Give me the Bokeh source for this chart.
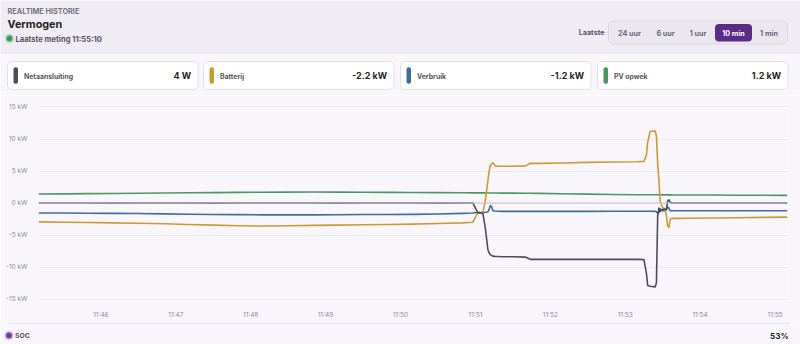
from datetime import datetime, timedelta

from bokeh.core.properties import value
from bokeh.embed import file_html
from bokeh.layouts import column
from bokeh.models import ColumnDataSource, DatetimeTickFormatter, FixedTicker, Range1d, Span
from bokeh.plotting import figure
from bokeh.resources import INLINE

FONT = "Inter"

# ---------------------------------------------------------------- data
day = "2024-01-01"
window_start = "11:45:10"
last_reading = "11:55:10"

# seconds after window_start
t_sec = [0, 20, 40, 60, 80, 100, 120, 140, 160, 180, 200, 220, 240, 260, 280, 300, 320, 340,
         348, 350, 352, 356, 358, 360, 361, 362, 363, 364, 366, 368, 372, 380, 390, 394,
         400, 420, 440, 460, 480,
         485, 487, 488, 490, 494, 495, 496, 497, 498, 500, 502, 503, 504, 505, 506, 508, 510,
         514, 520, 540, 560, 580, 600]

net_kw = [0.0, 0.01, 0.0, -0.01, 0.0, 0.01, 0.0, -0.01, 0.0, 0.0, 0.01, 0.0, -0.01, 0.0, 0.01, 0.0, -0.01, 0.0,
          0.0, -0.8, -1.5, -1.6, -4.0, -7.3, -7.8, -8.1, -8.2, -8.3, -8.35, -8.35, -8.4, -8.4, -8.45, -8.8,
          -8.8, -8.8, -8.8, -8.8, -8.8,
          -8.85, -11.0, -12.9, -13.0, -13.1, -12.5, -2.0, -0.8, -1.3, -1.0, -1.0, -0.9, 0.3, 0.5, 0.1, 0.0, 0.0,
          0.0, 0.0, 0.01, 0.0, 0.0, 0.004]

batt_kw = [-2.95, -3.0, -3.05, -3.1, -3.15, -3.25, -3.35, -3.45, -3.55, -3.6, -3.55, -3.5, -3.45, -3.4, -3.35, -3.3, -3.2, -3.1,
           -3.0, -2.2, -1.5, -1.5, 0.5, 3.5, 5.0, 5.9, 6.1, 6.3, 5.8, 5.75, 5.75, 5.75, 5.8, 6.2,
           6.2, 6.25, 6.35, 6.4, 6.45,
           6.5, 7.5, 9.5, 11.2, 11.25, 10.5, 6.2, 3.5, 0.2, -0.7, -1.0, -2.0, -3.6, -3.8, -2.5, -2.4, -2.4,
           -2.4, -2.38, -2.35, -2.3, -2.25, -2.2]

verbruik_kw = [-1.55, -1.55, -1.6, -1.62, -1.65, -1.7, -1.75, -1.8, -1.82, -1.85, -1.85, -1.85, -1.83, -1.8, -1.8, -1.78, -1.72, -1.62,
               -1.55, -1.5, -1.5, -1.5, -1.45, -1.4, -1.0, -0.4, -0.6, -1.2, -1.25, -1.28, -1.3, -1.3, -1.3, -1.3,
               -1.3, -1.3, -1.3, -1.28, -1.28,
               -1.28, -1.28, -1.28, -1.28, -1.3, -1.35, -1.6, -1.5, -0.9, -1.2, -1.2, -1.1, -0.6, -0.8, -1.2, -1.22, -1.22,
               -1.22, -1.22, -1.22, -1.21, -1.2, -1.2]

pv_kw = [1.40, 1.42, 1.46, 1.49, 1.52, 1.56, 1.60, 1.63, 1.66, 1.69, 1.70, 1.71, 1.70, 1.68, 1.66, 1.64, 1.62, 1.60,
         1.59, 1.59, 1.59, 1.58, 1.58, 1.57, 1.57, 1.57, 1.57, 1.56, 1.56, 1.56, 1.55, 1.54, 1.53, 1.52,
         1.51, 1.45, 1.39, 1.34, 1.30,
         1.29, 1.29, 1.29, 1.29, 1.28, 1.28, 1.28, 1.28, 1.28, 1.27, 1.27, 1.27, 1.27, 1.27, 1.27, 1.26, 1.26,
         1.26, 1.26, 1.24, 1.22, 1.21, 1.20]

series_names = ["Netaansluiting", "Batterij", "Verbruik", "PV opwek"]
series_now = ["4 W", "-2.2 kW", "-1.2 kW", "1.2 kW"]
series_colors = ["#4d4d58", "#cc9a35", "#3f6d97", "#4e9661"]

x_tick_labels = ["11:46", "11:47", "11:48", "11:49", "11:50", "11:51", "11:52", "11:53", "11:54", "11:55"]
y_ticks_kw = [-15, -10, -5, 0, 5, 10, 15]

range_label = "Laatste"
range_buttons = ["24 uur", "6 uur", "1 uur", "10 min", "1 min"]
selected_range = "10 min"

soc_label = "SOC"
soc_value = "53%"

# ---------------------------------------------------------------- colours
BODY_BG = "#f8f6fa"
HEADER_BG = "#efecf3"
BORDER = "#e2dee9"
TEXT_DARK = "#1f1f24"
TEXT_MID = "#55555e"
PURPLE = "#5b2b86"

W = 800


def deco_figure(h):
    f = figure(width=W, height=h, x_range=Range1d(0, W), y_range=Range1d(h, 0),
               x_axis_type=None, y_axis_type=None, toolbar_location=None,
               output_backend="svg", min_border=0, frame_align=False)
    f.outline_line_color = None
    f.background_fill_color = BODY_BG
    f.border_fill_color = BODY_BG
    return f


def txt(f, x, y, s, size, color, style="bold", align="left"):
    f.text(x=[x], y=[y], text=[s], text_font=value(FONT), text_font_size=value(f"{size}px"),
           text_font_style=style, text_color=color, text_align=align, text_baseline="middle")


# ---------------------------------------------------------------- header + cards
head = deco_figure(95)
head.quad(left=[0], right=[W], top=[0], bottom=[52], fill_color=HEADER_BG, line_color=None)
head.segment(x0=[0], y0=[52.5], x1=[W], y1=[52.5], line_color=BORDER, line_width=1)

txt(head, 7, 11, "REALTIME HISTORIE", 7.3, "#75757e")
txt(head, 7, 23.5, "Vermogen", 10.8, TEXT_DARK)
head.scatter(x=[9], y=[38], size=8, color="#3a9a50", alpha=0.25)
head.scatter(x=[9], y=[38], size=5, color="#3a9a50")
txt(head, 15, 38.5, f"Laatste meting {last_reading}", 7.6, TEXT_MID)

# range selector
txt(head, 604, 32, range_label, 7.2, TEXT_MID, align="right")
head.quad(left=[608], right=[787], top=[20.5], bottom=[43.5], fill_color="#ebe7f1",
          line_color="#dcd7e5", line_width=1, border_radius=5)
btn_centers = [629, 665, 697.5, 733, 768.5]
btn_widths = [34, 30, 28, 37, 30]
for lbl, cx, bw in zip(range_buttons, btn_centers, btn_widths):
    if lbl == selected_range:
        head.quad(left=[cx - bw / 2], right=[cx + bw / 2], top=[23.5], bottom=[41],
                  fill_color=PURPLE, line_color=None, border_radius=4)
        txt(head, cx, 32.5, lbl, 7.2, "#ffffff", align="center")
    else:
        txt(head, cx, 32.5, lbl, 7.2, "#6a6a73", align="center")

# current value cards
card_left = [7, 203, 400, 597]
card_w = 190.5
for left, name, now, col in zip(card_left, series_names, series_now, series_colors):
    head.quad(left=[left], right=[left + card_w], top=[61], bottom=[89], fill_color="#ffffff",
              line_color="#e4e0ea", line_width=1, border_radius=5)
    head.quad(left=[left + 6], right=[left + 10.5], top=[66.7], bottom=[83.3], fill_color=col,
              line_color=None, border_radius=2)
    txt(head, left + 16.5, 75.5, name, 6.9, TEXT_MID)
    txt(head, left + card_w - 7, 75, now, 9, TEXT_DARK, align="right")

# ---------------------------------------------------------------- chart
base = datetime.strptime(f"{day} {window_start}", "%Y-%m-%d %H:%M:%S")
t_end = datetime.strptime(f"{day} {last_reading}", "%Y-%m-%d %H:%M:%S")
times = [base + timedelta(seconds=s) for s in t_sec]
epoch = datetime(1970, 1, 1)
tick_ms = [(datetime.strptime(f"{day} {lbl}", "%Y-%m-%d %H:%M") - epoch).total_seconds() * 1000
           for lbl in x_tick_labels]

# frame is 196 px tall; this range puts 0 kW on a pixel centre at 6.4 px per kW
chart = figure(width=W, height=227, x_axis_type="datetime",
               x_range=Range1d(base, t_end), y_range=Range1d(-15.23, 15.39),
               toolbar_location=None, output_backend="svg", frame_align=False,
               min_border_left=38, min_border_right=13, min_border_top=9, min_border_bottom=22)
chart.outline_line_color = None
chart.background_fill_color = BODY_BG
chart.border_fill_color = BODY_BG
chart.xgrid.visible = False
chart.ygrid.grid_line_color = "#ece9f0"
chart.ygrid.grid_line_width = 1

chart.yaxis.ticker = FixedTicker(ticks=y_ticks_kw)
chart.yaxis.major_label_overrides = {v: f"{v} kW" for v in y_ticks_kw}
chart.xaxis.ticker = FixedTicker(ticks=tick_ms)
chart.xaxis.formatter = DatetimeTickFormatter(
    seconds="%H:%M", minsec="%H:%M", minutes="%H:%M", hourmin="%H:%M", hours="%H:%M")
for ax in (chart.xaxis[0], chart.yaxis[0]):
    ax.axis_line_color = None
    ax.major_tick_line_color = None
    ax.minor_tick_line_color = None
    ax.major_label_text_font = FONT
    ax.major_label_text_font_size = "6.5px"
    ax.major_label_text_color = "#8d8d96"
chart.yaxis.major_label_standoff = 5
chart.xaxis.major_label_standoff = 4

chart.add_layout(Span(location=0, dimension="width", line_color="#c7c4ce", line_width=1))

src = ColumnDataSource(dict(t=times, net=net_kw, batt=batt_kw, verbruik=verbruik_kw, pv=pv_kw))
for key, col in zip(["pv", "verbruik", "batt", "net"], [series_colors[3], series_colors[2],
                                                        series_colors[1], series_colors[0]]):
    chart.line("t", key, source=src, line_color=col, line_width=1.6, line_join="round")

# ---------------------------------------------------------------- footer
foot = deco_figure(22)
foot.segment(x0=[8], y0=[0.5], x1=[789], y1=[0.5], line_color="#dcd8e5", line_width=1)
foot.scatter(x=[8.5], y=[13], size=8, color="#6b3a9c", alpha=0.25)
foot.scatter(x=[8.5], y=[13], size=5, color="#6b3a9c")
txt(foot, 14.5, 13, soc_label, 6.8, TEXT_MID)
txt(foot, 788, 13, soc_value, 8, TEXT_DARK, align="right")

layout = column(head, chart, foot, spacing=0)
open("out.html", "w").write(file_html(layout, INLINE))
